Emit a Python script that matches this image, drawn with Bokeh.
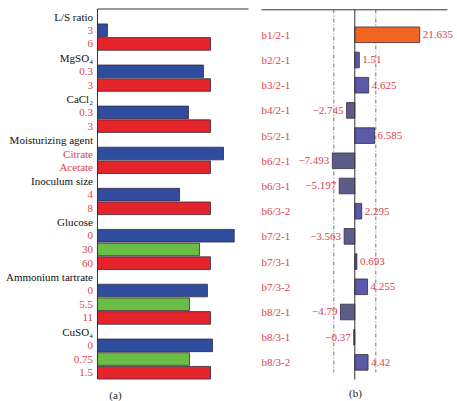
from bokeh.plotting import figure
from bokeh.layouts import row
from bokeh.models import Range1d, ColumnDataSource
from bokeh.core.properties import value
from bokeh.embed import file_html
from bokeh.resources import INLINE

# ---------- Panel (a) data ----------
a_labels = ["L/S ratio", "3", "6", "MgSO\u2084", "0.3", "3", "CaCl\u2082", "0.3", "3",
            "Moisturizing agent", "Citrate", "Acetate", "Inoculum size", "4", "8",
            "Glucose", "0", "30", "60", "Ammonium tartrate", "0", "5.5", "11",
            "CuSO\u2084", "0", "0.75", "1.5"]
a_is_header = [1, 0, 0, 1, 0, 0, 1, 0, 0, 1, 0, 0, 1, 0, 0, 1, 0, 0, 0, 1, 0, 0, 0, 1, 0, 0, 0]
a_values = [None, 8.8, 100, None, 93.8, 100, None, 80.5, 100, None, 111.5, 100, None, 72.6, 100,
            None, 121.0, 90.3, 100, None, 97.3, 81.4, 100, None, 101.8, 81.4, 100]
a_level = [None, "low", "high", None, "low", "high", None, "low", "high", None, "low", "high",
           None, "low", "high", None, "low", "mid", "high", None, "low", "mid", "high",
           None, "low", "mid", "high"]

# ---------- Panel (b) data ----------
b_labels = ["b1/2-1", "b2/2-1", "b3/2-1", "b4/2-1", "b5/2-1", "b6/2-1", "b6/3-1", "b6/3-2",
            "b7/2-1", "b7/3-1", "b7/3-2", "b8/2-1", "b8/3-1", "b8/3-2"]
b_values = [21.635, 1.51, 4.625, -2.745, 6.585, -7.493, -5.197, 2.295,
            -3.563, 0.693, 4.255, -4.79, -0.37, 4.42]
b_text = ["21.635", "1.51", "4.625", "\u22122.745", "6.585", "\u22127.493", "\u22125.197", "2.295",
          "\u22123.563", "0.693", "4.255", "\u22124.79", "\u22120.37", "4.42"]
b_threshold = 7.0

FONT = value("Liberation Serif")
LBL_RED = "#d9444a"
level_colors = {"low": "#2f4c9e", "mid": "#6abd45", "high": "#e5232a"}

H = 401

# ---------- Figure (a) ----------
pa = figure(width=250, height=H, output_backend="svg", toolbar_location=None,
            x_range=Range1d(-85.84, 135.4), y_range=Range1d(28.1, -1.168),
            min_border=0, min_border_left=0, min_border_right=0, min_border_top=0, min_border_bottom=0)
pa.axis.visible = False
pa.grid.visible = False
pa.outline_line_color = None

ya = list(range(len(a_labels)))
bar_y = [y for y, v in zip(ya, a_values) if v is not None]
bar_v = [v for v in a_values if v is not None]
bar_c = [level_colors[l] for l in a_level if l is not None]
pa.hbar(y=bar_y, left=0, right=bar_v, height=0.92, fill_color=bar_c,
        line_color="#3a2a3a", line_width=0.8)

lab_col = ["#111111" if h else LBL_RED for h in a_is_header]
pa.text(x=[-3.98] * len(a_labels), y=ya, text=a_labels, text_color=lab_col,
        text_font=FONT, text_font_size="11px", text_align="right", text_baseline="middle")

pa.segment(x0=[0, 0], y0=[-0.547, -0.547], x1=[133.6, 0], y1=[-0.547, 26.46],
           line_color="#333333", line_width=1)
pa.text(x=[15.9], y=[27.59], text=["(a)"], text_font=FONT, text_font_size="11px",
        text_color="#222222", text_align="center", text_baseline="middle")

# ---------- Figure (b) ----------
pb = figure(width=207, height=H, output_backend="svg", toolbar_location=None,
            x_range=Range1d(-34.77, 34.23), y_range=Range1d(14.552, -1.361),
            min_border=0, min_border_left=0, min_border_right=0, min_border_top=0, min_border_bottom=0)
pb.axis.visible = False
pb.grid.visible = False
pb.outline_line_color = None

yb = list(range(len(b_labels)))
b_cols = []
for i, v in enumerate(b_values):
    if i == 0:
        b_cols.append("#f06522")
    elif v >= 0:
        b_cols.append("#5a5aa8")
    else:
        b_cols.append("#5c5c88")

pb.segment(x0=[-b_threshold, b_threshold], y0=[-1.004, -1.004], x1=[-b_threshold, b_threshold],
           y1=[13.40, 13.40], line_color="#555555", line_width=0.8, line_dash="4 2 1 2")

pb.hbar(y=yb, left=0, right=b_values, height=0.62, fill_color=b_cols,
        line_color="#3a2a3a", line_width=0.8)

pb.segment(x0=[-31.1, 0], y0=[-0.992, -0.992], x1=[30.9, 0], y1=[-0.992, 13.68],
           line_color="#333333", line_width=1)

pb.text(x=[-31.1] * len(b_labels), y=yb, text=b_labels, text_color=LBL_RED,
        text_font=FONT, text_font_size="11px", text_align="left", text_baseline="middle")

pos = ColumnDataSource(dict(x=[v for v in b_values if v >= 0], y=[y for y, v in zip(yb, b_values) if v >= 0],
                            t=[t for t, v in zip(b_text, b_values) if v >= 0]))
neg = ColumnDataSource(dict(x=[v for v in b_values if v < 0], y=[y for y, v in zip(yb, b_values) if v < 0],
                            t=[t for t, v in zip(b_text, b_values) if v < 0]))
pb.text(x="x", y="y", text="t", source=pos, x_offset=3, text_color=LBL_RED, text_font=FONT,
        text_font_size="11px", text_align="left", text_baseline="middle")
pb.text(x="x", y="y", text="t", source=neg, x_offset=-3, text_color=LBL_RED, text_font=FONT,
        text_font_size="11px", text_align="right", text_baseline="middle")

pb.text(x=[0.23], y=[14.22], text=["(b)"], text_font=FONT, text_font_size="11px",
        text_color="#222222", text_align="center", text_baseline="middle")

layout = row(pa, pb, spacing=0)
open("out.html", "w").write(file_html(layout, INLINE))
